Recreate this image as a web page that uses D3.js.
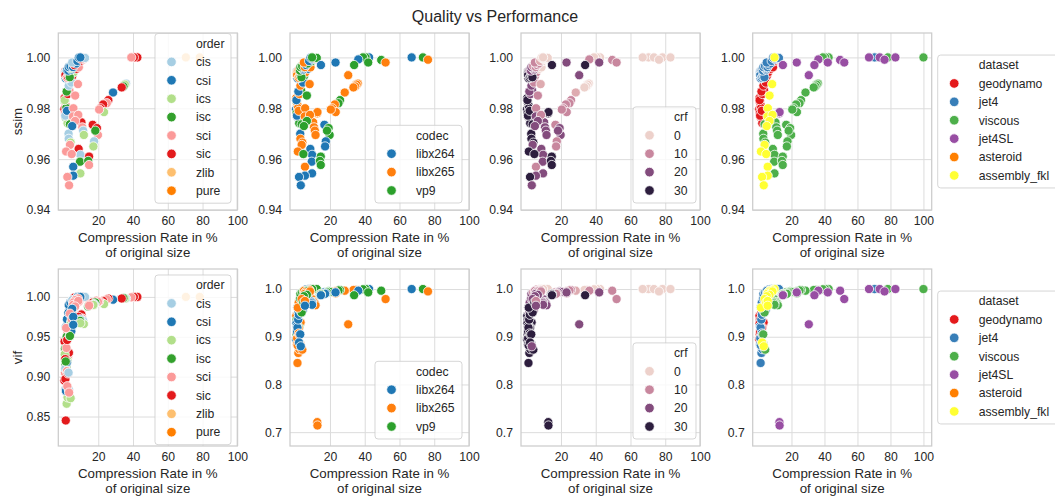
<!DOCTYPE html>
<meta charset="utf-8" />
<script src="https://d3js.org/d3.v7.min.js"></script>
<div id="chart"></div>
<style>
  body { margin: 0; background: #fff; }
  svg { font-family: "Liberation Sans", Arial, sans-serif; fill: #262626; }
</style>
<script>
  // one row per run: [rate %, ssim, vif, order, codec, crf]
  const geodynamoRuns = [
    [0.6, 0.9840, 0.944, "sic", "libx265", 30], [0.8, 0.9826, 0.935, "isc", "vp9", 30],
    [1.3, 0.9812, 0.930, "sci", "libx265", 30], [0.5, 0.9796, 0.895, "sic", "libx264", 30],
    [1.6, 0.9801, 0.912, "isc", "libx265", 30], [0.8, 0.9781, 0.905, "sci", "vp9", 30],
    [1.9, 0.9776, 0.920, "sic", "vp9", 30], [1.2, 0.9766, 0.915, "isc", "libx264", 30],
    [2.6, 0.9762, 0.925, "sci", "vp9", 30], [3.1, 0.9752, 0.930, "sic", "libx265", 30],
    [2.3, 0.9741, 0.920, "ics", "vp9", 30], [1.0, 0.9771, 0.910, "cis", "libx264", 30],
    [0.7, 0.9832, 0.928, "ics", "libx264", 30], [2.0, 0.9790, 0.918, "csi", "libx265", 30],
    [2.5, 0.9856, 0.955, "sic", "libx265", 20], [3.4, 0.9871, 0.962, "sci", "vp9", 20],
    [1.8, 0.9866, 0.950, "isc", "libx264", 20], [3.0, 0.9889, 0.968, "cis", "libx265", 20],
    [4.0, 0.9911, 0.978, "sci", "libx265", 10], [5.0, 0.9926, 0.982, "sic", "vp9", 10],
    [5.8, 0.9941, 0.986, "ics", "libx265", 10], [4.5, 0.9901, 0.975, "cis", "libx264", 10],
    [7.5, 0.9955, 0.992, "sic", "libx264", 0], [8.8, 0.9961, 0.994, "sci", "libx265", 0],
    [9.5, 0.9985, 0.998, "sic", "vp9", 0], [11.2, 0.9993, 0.999, "sic", "libx264", 0]
  ];
  const jet4Runs = [
    [1.0, 0.9945, 0.922, "sic", "libx264", 30], [1.3, 0.9942, 0.919, "isc", "libx264", 30],
    [1.7, 0.9933, 0.936, "sci", "libx264", 30], [2.1, 0.9936, 0.946, "sic", "libx264", 30],
    [1.3, 0.9918, 0.962, "csi", "libx264", 30],
    [1.3, 0.9935, 0.845, "sic", "libx265", 30], [1.8, 0.9928, 0.866, "ics", "libx265", 30],
    [2.3, 0.9922, 0.874, "ics", "libx265", 30], [1.0, 0.9940, 0.884, "cis", "libx265", 30],
    [1.4, 0.9938, 0.882, "csi", "libx265", 30], [1.1, 0.9931, 0.897, "sic", "libx265", 30],
    [2.0, 0.9920, 0.907, "sci", "libx265", 30], [2.5, 0.9925, 0.904, "sic", "libx265", 30],
    [3.2, 0.9930, 0.958, "sci", "vp9", 30], [3.6, 0.9922, 0.951, "isc", "vp9", 30],
    [2.0, 0.9950, 0.972, "csi", "libx265", 20], [2.8, 0.9948, 0.980, "csi", "vp9", 20],
    [4.5, 0.9952, 0.957, "csi", "libx264", 20], [4.3, 0.9957, 0.968, "ics", "libx264", 20],
    [3.0, 0.9962, 0.990, "csi", "vp9", 20], [4.0, 0.9966, 0.993, "csi", "vp9", 10],
    [5.5, 0.9962, 0.997, "csi", "libx265", 10], [6.2, 0.9970, 0.999, "sic", "libx264", 10],
    [7.2, 0.9976, 0.998, "csi", "vp9", 10], [5.0, 0.9980, 0.996, "cis", "libx265", 10],
    [8.0, 0.9986, 1.000, "csi", "libx264", 5], [10.2, 0.9993, 1.000, "sic", "libx264", 0],
    [11.4, 0.9997, 1.000, "sic", "libx265", 0], [12.4, 0.9998, 1.000, "cis", "vp9", 0],
    [8.8, 0.9999, 1.000, "csi", "libx264", 0], [70.4, 1.0000, 1.000, "zlib", null, 0]
  ];
  const viscousRuns = [
    [42.5, 1.0000, 1.000, "sic", "libx264", 0], [40.5, 1.0000, 1.000, "sic", "vp9", 0],
    [39.0, 1.0000, 0.9995, "sci", "vp9", 0], [36.0, 0.9897, 0.998, "cis", "libx265", 0],
    [35.3, 0.9893, 0.998, "ics", "libx265", 0], [34.5, 0.9886, 0.9985, "isc", "libx265", 0],
    [33.5, 0.9882, 0.998, "sic", "libx265", 0], [28.5, 0.9862, 0.9965, "csi", "libx265", 5],
    [25.8, 0.9832, 0.998, "sic", "vp9", 10], [24.9, 0.9820, 0.997, "sci", "vp9", 10],
    [22.8, 0.9815, 0.995, "sic", "libx265", 10], [21.3, 0.9800, 0.994, "sic", "libx265", 10],
    [23.3, 0.9785, 0.991, "ics", "libx265", 10], [20.5, 0.9795, 0.994, "sci", "libx265", 10],
    [16.8, 0.9735, 0.993, "sic", "libx264", 10], [19.2, 0.9722, 0.995, "sic", "vp9", 20],
    [19.8, 0.9695, 0.994, "sci", "vp9", 20], [18.3, 0.9712, 0.993, "isc", "vp9", 20],
    [17.6, 0.9670, 0.991, "cis", "libx264", 10], [17.2, 0.9650, 0.990, "ics", "libx264", 10],
    [10.3, 0.9745, 0.978, "sic", "libx265", 20], [10.8, 0.9725, 0.973, "sci", "libx265", 20],
    [11.3, 0.9712, 0.970, "cis", "libx265", 20], [11.7, 0.9695, 0.966, "ics", "libx265", 20],
    [8.7, 0.9640, 0.975, "sic", "libx264", 20], [9.7, 0.9617, 0.972, "cis", "libx264", 20],
    [9.5, 0.9590, 0.970, "isc", "libx264", 20], [9.7, 0.9544, 0.967, "ics", "libx264", 20],
    [14.7, 0.9610, 0.990, "sic", "vp9", 30], [14.2, 0.9593, 0.988, "isc", "vp9", 30],
    [14.7, 0.9577, 0.989, "sci", "vp9", 30], [3.7, 0.9737, 0.951, "isc", "vp9", 30],
    [2.9, 0.9700, 0.905, "cis", "libx264", 30], [3.0, 0.9680, 0.884, "cis", "libx265", 30],
    [4.1, 0.9665, 0.873, "ics", "libx265", 30], [78.4, 1.0000, 1.000, "zlib", null, 0],
    [100.0, 1.0000, 1.000, null, null, null]
  ];
  const jet4slRuns = [
    [67.0, 1.0000, 1.000, null, "libx264", 0], [36.3, 0.9992, 0.9965, null, "libx264", 10],
    [23.2, 0.9980, 0.993, null, "libx264", 20], [14.8, 0.9970, 0.987, null, "libx264", 30],
    [73.5, 1.0000, 1.000, null, "vp9", 0], [49.5, 0.9990, 0.9965, null, "vp9", 10],
    [42.0, 0.9980, 0.993, null, "vp9", 20], [33.9, 0.9970, 0.987, null, "vp9", 30],
    [76.4, 0.9991, 0.995, null, "libx265", 0], [52.0, 0.9980, 0.979, null, "libx265", 10],
    [30.5, 0.9930, 0.926, null, "libx265", 20], [12.7, 0.9780, 0.721, null, "libx265", 30],
    [12.8, 0.9785, 0.714, null, "libx265", 30], [83.0, 1.0000, 1.000, null, null, 0]
  ];
  const asteroidRuns = [];
  const assemblyRuns = [
    [9.7, 1.0000, 1.000, "csi", "vp9", 0], [8.3, 0.9895, 0.998, "sci", "libx265", 5],
    [6.7, 0.9850, 0.996, "sci", "vp9", 10], [5.7, 0.9800, 0.993, "sci", "libx265", 10],
    [5.5, 0.9768, 0.990, "sci", "libx265", 20], [8.5, 0.9774, 0.995, "sci", "libx265", 10],
    [6.7, 0.9750, 0.988, "sci", "vp9", 20], [5.0, 0.9730, 0.985, "csi", "vp9", 20],
    [3.7, 0.9656, 0.979, "sci", "libx265", 20], [1.5, 0.9630, 0.961, "sci", "libx265", 30],
    [4.7, 0.9620, 0.972, "sci", "vp9", 30], [5.6, 0.9570, 0.975, "csi", "libx265", 10],
    [5.6, 0.9535, 0.965, "csi", "libx264", 20], [2.2, 0.9530, 0.888, "sci", "libx264", 30],
    [3.2, 0.9497, 0.880, "sci", "libx264", 20]
  ];

  const datasetNames = ["geodynamo", "jet4", "viscous", "jet4SL", "asteroid", "assembly_fkl"];
  const orderNames = ["cis", "csi", "ics", "isc", "sci", "sic", "zlib", "pure"];
  const codecNames = ["libx264", "libx265", "vp9"];
  const crfTicks = [0, 10, 20, 30];
  const rateTicks = [20, 40, 60, 80, 100];
  const ssimTicks = [0.94, 0.96, 0.98, 1.0];
  const vifTicksOrder = [0.85, 0.9, 0.95, 1.0];
  const vifTicks = [0.7, 0.8, 0.9, 1.0];

  const runs = [];
  [geodynamoRuns, jet4Runs, viscousRuns, jet4slRuns, asteroidRuns, assemblyRuns].forEach((list, i) => {
    list.forEach((r) => runs.push({ dataset: datasetNames[i], rate: r[0], ssim: r[1], vif: r[2], order: r[3], codec: r[4], crf: r[5] }));
  });

  // seaborn default numeric palette ("ch:"), light -> dark
  function cubehelix(v) {
    const t = 0.85 - 0.7 * v;
    const a = (0.8 * t * (1 - t)) / 2;
    const phi = 2 * Math.PI * (0.4 * t);
    const c = [[-0.14861, 1.78277], [-0.29227, -0.90649], [1.97294, 0]].map(([p0, p1]) =>
      255 * Math.max(0, Math.min(1, t + a * (p0 * Math.cos(phi) + p1 * Math.sin(phi)))));
    return d3.rgb(c[0], c[1], c[2]).formatHex();
  }
  const crfScale = d3.scaleLinear().domain([0, 30]).range([0, 1]);

  const columns = [
    { key: "order", levels: orderNames, xDomain: [-3, 100], legend: { x: 155, w: 76, pos: "top" },
      color: d3.scaleOrdinal(orderNames, ["#a6cee3", "#1f78b4", "#b2df8a", "#33a02c", "#fb9a99", "#e31a1c", "#fdbf6f", "#ff7f00"]) },
    { key: "codec", levels: codecNames, xDomain: [-3, 100], legend: { x: 375, w: 87, pos: "bottom" },
      color: d3.scaleOrdinal(codecNames, ["#1f77b4", "#ff7f0e", "#2ca02c"]) },
    { key: "crf", levels: crfTicks, xDomain: [-3, 100], legend: { x: 633, w: 63, pos: "bottom" },
      color: (v) => cubehelix(crfScale(v)) },
    { key: "dataset", levels: datasetNames, xDomain: [-3.5, 105], legend: { x: 937.7, w: 130, pos: "outside" },
      color: d3.scaleOrdinal(datasetNames, ["#e41a1c", "#377eb8", "#4daf4a", "#984ea3", "#ff7f00", "#ffff33"]) }
  ];
  const rows = [
    { metric: "ssim", top: 33, legendTop: 33.5,
      first: { domain: [0.94, 1.0096], ticks: ssimTicks, fmt: ".2f" },
      rest: { domain: [0.94, 1.0096], ticks: ssimTicks, fmt: ".2f" } },
    { metric: "vif", top: 269, legendTop: 275,
      first: { domain: [0.813, 1.035], ticks: vifTicksOrder, fmt: ".2f" },
      rest: { domain: [0.671, 1.042], ticks: vifTicks, fmt: ".1f" } }
  ];

  const W = 1055, H = 498;
  const colLeft = [58.3, 290, 521, 752.7];
  const panelW = 179, panelH = 177;

  const svg = d3.select("#chart").append("svg").attr("width", W).attr("height", H);
  svg.append("rect").attr("width", W).attr("height", H).attr("fill", "#fff");

  svg.append("text").attr("x", 495).attr("y", 22).attr("text-anchor", "middle")
    .style("font-size", "16px").text("Quality vs Performance");

  const legends = [];

  rows.forEach((row, ri) => {
    columns.forEach((col, ci) => {
      const left = colLeft[ci], top = row.top;
      const yCfg = ci === 0 ? row.first : row.rest;
      const x = d3.scaleLinear().domain(col.xDomain).range([0, panelW]);
      const y = d3.scaleLinear().domain(yCfg.domain).range([panelH, 0]);
      const g = svg.append("g").attr("transform", `translate(${left},${top})`);

      // grid + tick labels
      const xAxis = g.append("g").attr("transform", `translate(0,${panelH})`)
        .call(d3.axisBottom(x).tickValues(rateTicks).tickSize(-panelH).tickPadding(6.5));
      const yAxis = g.append("g")
        .call(d3.axisLeft(y).tickValues(yCfg.ticks).tickFormat(d3.format(yCfg.fmt)).tickSize(-panelW).tickPadding(8));
      [xAxis, yAxis].forEach((a) => {
        a.select(".domain").remove();
        a.selectAll("line").attr("stroke", "#dcdcdc").attr("stroke-width", 1);
        a.selectAll("text").attr("fill", "#262626").style("font-size", "12.2px")
          .style("font-family", '"Liberation Sans", Arial, sans-serif');
      });

      const clipId = `clip-${ri}-${ci}`;
      g.append("clipPath").attr("id", clipId).append("rect").attr("width", panelW).attr("height", panelH);
      const pts = runs.filter((d) => d[col.key] != null);
      g.append("g").attr("clip-path", `url(#${clipId})`)
        .selectAll("circle").data(pts).join("circle")
        .attr("cx", (d) => x(d.rate))
        .attr("cy", (d) => y(d[row.metric]))
        .attr("r", 4.6)
        .attr("fill", (d) => col.color(d[col.key]))
        .attr("stroke", "#fff")
        .attr("stroke-width", 0.8);

      g.append("rect").attr("width", panelW).attr("height", panelH)
        .attr("fill", "none").attr("stroke", "#cccccc").attr("stroke-width", 1.25);

      const xl = g.append("text").attr("text-anchor", "middle").style("font-size", "13.3px");
      xl.append("tspan").attr("x", panelW / 2).attr("y", panelH + 31.5).text("Compression Rate in %");
      xl.append("tspan").attr("x", panelW / 2).attr("y", panelH + 47).text("of original size");

      if (ci === 0) {
        svg.append("text")
          .attr("transform", `translate(17,${top + panelH / 2}) rotate(-90)`)
          .attr("text-anchor", "middle").attr("dy", "0.35em")
          .style("font-size", "13.3px").text(row.metric);
      }

      const n = col.levels.length + 1;
      const h = 10 + (n - 1) * 18.4 + 12.5;
      let ly;
      if (col.legend.pos === "top") ly = row.legendTop;
      else if (col.legend.pos === "bottom") ly = top + panelH - 7 - h;
      else ly = top + panelH / 2 - h / 2;
      legends.push({ col, lx: col.legend.x, ly, h });
    });
  });

  legends.forEach(({ col, lx, ly, h }) => {
    const lg = svg.append("g").attr("transform", `translate(${lx},${ly})`).style("font-size", "12.2px");
    lg.append("rect").attr("width", col.legend.w).attr("height", h).attr("rx", 3)
      .attr("fill", "#fff").attr("fill-opacity", 0.8)
      .attr("stroke", "#cccccc").attr("stroke-opacity", 0.8);
    lg.append("text").attr("x", 41).attr("y", 10).attr("dy", "0.35em").text(col.key);
    col.levels.forEach((lv, i) => {
      const cy = 10 + (i + 1) * 18.4;
      lg.append("circle").attr("cx", 16.5).attr("cy", cy).attr("r", 4.8)
        .attr("fill", col.color(lv)).attr("stroke", "#fff").attr("stroke-width", 0.8);
      lg.append("text").attr("x", 41).attr("y", cy).attr("dy", "0.35em").text(lv);
    });
  });
</script>
